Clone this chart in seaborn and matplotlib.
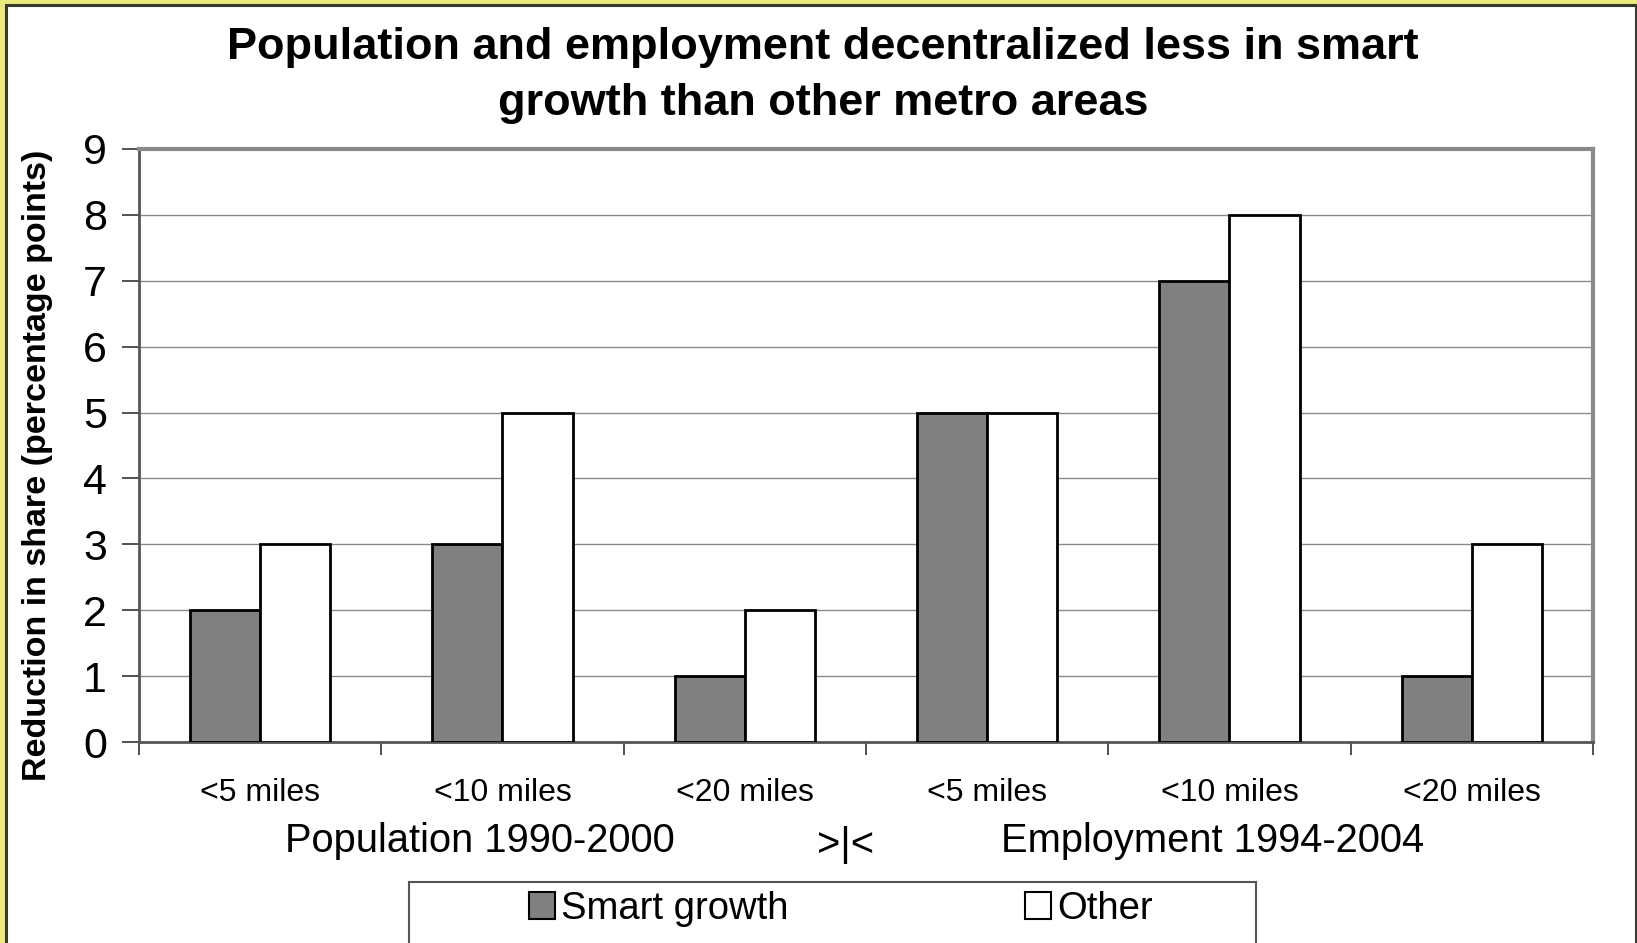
import matplotlib
matplotlib.use("Agg")
import matplotlib.pyplot as plt
from matplotlib.patches import Rectangle, Patch
from matplotlib.ticker import FixedLocator, NullFormatter
import seaborn as sns
import pandas as pd

# ---- data ----
categories = ["pop_5", "pop_10", "pop_20", "emp_5", "emp_10", "emp_20"]
tick_labels = ["<5 miles", "<10 miles", "<20 miles", "<5 miles", "<10 miles", "<20 miles"]
series_names = ["Smart growth", "Other"]
smart_growth = [2, 3, 1, 5, 7, 1]
other = [3, 5, 2, 5, 8, 3]
period_labels = ["Population 1990-2000", "Employment 1994-2004"]
y_ticks = [0, 1, 2, 3, 4, 5, 6, 7, 8, 9]
title_lines = ["Population and employment decentralized less in smart",
               "growth than other metro areas"]

df = pd.DataFrame({
    "cat": categories * 2,
    "series": [series_names[0]] * len(categories) + [series_names[1]] * len(categories),
    "value": smart_growth + other,
})

sns.set_theme(style="white")
plt.rcParams["font.family"] = ["Liberation Sans", "DejaVu Sans"]
plt.rcParams["text.color"] = "black"
plt.rcParams["xtick.color"] = "black"
plt.rcParams["ytick.color"] = "black"

W, H = 1637, 943
fig = plt.figure(figsize=(W / 100, H / 100), dpi=100)
fig.patch.set_facecolor("#ebeb7c")

# white panel with dark outline
fig.patches.append(Rectangle((6 / W, -0.01), (1636 - 6) / W, (H - 5) / H + 0.01,
                             transform=fig.transFigure, facecolor="white",
                             edgecolor="#3a3a2a", linewidth=2.2, zorder=0))

ax = fig.add_axes([139 / W, (H - 742) / H, 1454 / W, (742 - 149) / H])
ax.set_zorder(2)
ax.set_facecolor("white")

sns.barplot(data=df, x="cat", y="value", hue="series", order=categories,
            hue_order=series_names,
            palette={"Smart growth": "#808080", "Other": "#ffffff"},
            width=0.58, saturation=1, edgecolor="black", linewidth=2,
            legend=False, ax=ax, zorder=3)

ax.set_ylim(0, 9)
ax.set_xlim(-0.5, len(categories) - 0.5)
ax.set_yticks(y_ticks)
ax.yaxis.grid(True, color="#8a8a8a", linewidth=1, zorder=0)
ax.set_axisbelow(True)

ax.set_xticks(range(len(categories)))
ax.set_xticklabels(tick_labels, fontsize=23)
ax.tick_params(axis="x", which="major", length=0, pad=26)
ax.xaxis.set_minor_locator(FixedLocator([i - 0.5 for i in range(len(categories) + 1)]))
ax.xaxis.set_minor_formatter(NullFormatter())
ax.tick_params(axis="x", which="minor", bottom=True, length=9, width=1.2, color="#333333", direction="out")
ax.tick_params(axis="y", left=True, length=12, width=1.2, color="#333333", labelsize=31, pad=11, direction="out")

for side in ["top", "right"]:
    ax.spines[side].set_color("#8a8a8a")
    ax.spines[side].set_linewidth(3)
for side in ["left", "bottom"]:
    ax.spines[side].set_color("#555555")
    ax.spines[side].set_linewidth(2)

ax.set_xlabel("")
ax.set_ylabel("")

# two-line title
fig.text(823 / W, 1 - 48 / H, title_lines[0], ha="center", va="center",
         fontsize=32.5, fontweight="bold")
fig.text(823 / W, 1 - 104 / H, title_lines[1], ha="center", va="center",
         fontsize=32.5, fontweight="bold")

# y label
fig.text(38 / W, 1 - 465 / H, "Reduction in share (percentage points)",
         rotation=90, ha="center", va="center", fontsize=24.5, fontweight="bold")

# period labels under the categories
fig.text(480 / W, 1 - 841 / H, period_labels[0], ha="center", va="center", fontsize=28.7)
fig.text(1213 / W, 1 - 841 / H, period_labels[1], ha="center", va="center", fontsize=28.7)
fig.text(846 / W, 1 - 845 / H, ">|<", ha="center", va="center", fontsize=28.7)

# legend box
fig.patches.append(Rectangle((409 / W, -0.01), (1256 - 409) / W, (H - 882) / H + 0.01,
                             transform=fig.transFigure, facecolor="white",
                             edgecolor="#555555", linewidth=1.5, zorder=1))
handles = [Patch(facecolor="#808080", edgecolor="black", linewidth=1.5),
           Patch(facecolor="white", edgecolor="black", linewidth=1.5)]
leg = fig.legend(handles, series_names, loc="center left",
                 bbox_to_anchor=(510 / W, 1 - 909 / H), ncol=2, frameon=False,
                 fontsize=27.5, handlelength=0.68, handleheight=0.68,
                 handletextpad=0.15, columnspacing=6.2, borderpad=0)

fig.savefig("out.png", dpi=100, facecolor=fig.get_facecolor())
